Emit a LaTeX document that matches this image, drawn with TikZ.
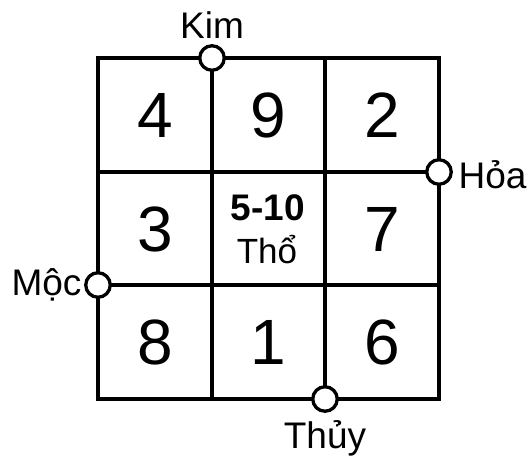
\documentclass[tikz,border=0pt]{standalone}
\usepackage{fontspec}
\setmainfont{Liberation Sans}
\usetikzlibrary{positioning}
\tikzset{
every picture/.style={
line width=3.3pt
}}
\tikzset{
hanh/.style={circle, draw, fill=white, inner sep=0pt, minimum size=24.5pt},
tenhanh/.style={font=\fontsize{37}{40}\selectfont, inner sep=0pt},
so/.style={font=\fontsize{64}{70}\selectfont}
}

\begin{document}
\begin{tikzpicture}[x=1pt, y=-1pt]
\useasboundingbox (0,0) rectangle (532,456);

% grid: x 98..439, y 58..399
\draw (98,58) rectangle (439,399);
\foreach \x in {212, 325}{
  \draw (\x,58) -- (\x,399);
}
\foreach \y in {172, 285}{
  \draw (98,\y) -- (439,\y);
}

% the numbers
\foreach \n/\x/\y in {4/155/115, 9/268/115, 2/382/115, 3/155/229, 7/382/229, 8/155/342, 1/268/342, 6/382/342}{
  \node[so] (o\n) at (\x,\y) {\n};
}
\node[font=\fontsize{37}{40}\selectfont\bfseries, inner sep=0pt] (o5) at (268,208) {5-10};
\node[font=\fontsize{35}{38}\selectfont, inner sep=0pt] (tho) at (267,250) {Thổ};

% the elements
\node[hanh] (kim) at (212,58) {};
\node[hanh] (hoa) at (439,172) {};
\node[hanh] (moc) at (98,285) {};
\node[hanh] (thuy) at (325,399) {};

\node[tenhanh, above=4pt of kim] (lkim) {Kim};
\node[tenhanh, right=4pt of hoa, yshift=-3pt] (lhoa) {Hỏa};
\node[tenhanh, left=1pt of moc] (lmoc) {Mộc};
\node[tenhanh, below=6pt of thuy] (lthuy) {Thủy};
\end{tikzpicture}
\end{document}
